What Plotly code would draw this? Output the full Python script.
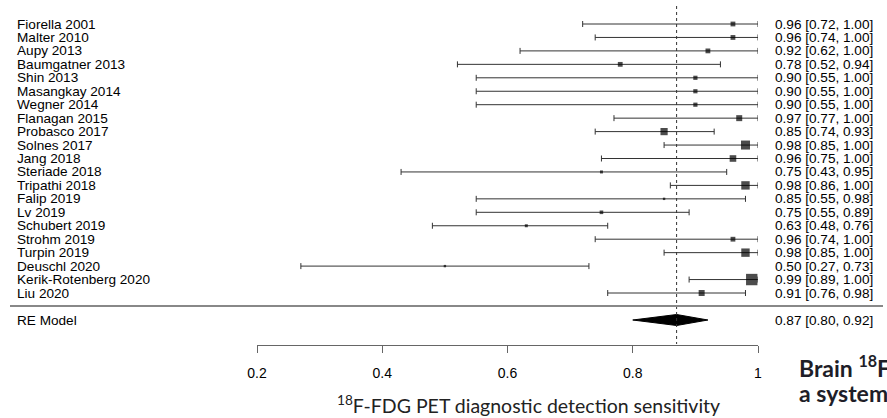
import plotly.graph_objects as go

# ---------------- data ----------------
studies = ["Fiorella 2001", "Malter 2010", "Aupy 2013", "Baumgatner 2013", "Shin 2013",
           "Masangkay 2014", "Wegner 2014", "Flanagan 2015", "Probasco 2017", "Solnes 2017",
           "Jang 2018", "Steriade 2018", "Tripathi 2018", "Falip 2019", "Lv 2019",
           "Schubert 2019", "Strohm 2019", "Turpin 2019", "Deuschl 2020",
           "Kerik-Rotenberg 2020", "Liu 2020"]
estimate = [0.96, 0.96, 0.92, 0.78, 0.90, 0.90, 0.90, 0.97, 0.85, 0.98, 0.96, 0.75, 0.98,
            0.85, 0.75, 0.63, 0.96, 0.98, 0.50, 0.99, 0.91]
lower = [0.72, 0.74, 0.62, 0.52, 0.55, 0.55, 0.55, 0.77, 0.74, 0.85, 0.75, 0.43, 0.86,
         0.55, 0.55, 0.48, 0.74, 0.85, 0.27, 0.89, 0.76]
upper = [1.00, 1.00, 1.00, 0.94, 1.00, 1.00, 1.00, 1.00, 0.93, 1.00, 1.00, 0.95, 1.00,
         0.98, 0.89, 0.76, 1.00, 1.00, 0.73, 1.00, 0.98]
# relative study weights
weights = [4, 4, 4, 4, 3.5, 3.5, 3.5, 5, 6, 7.5, 5.5, 2.5, 7, 2, 3, 2.5, 4, 7, 2, 9.5, 5]
model_label = "RE Model"
model_est, model_lo, model_hi = 0.87, 0.80, 0.92
tick_values = [0.2, 0.4, 0.6, 0.8, 1.0]
tick_labels = ["0.2", "0.4", "0.6", "0.8", "1"]
x_title = "<sup>18</sup>F-FDG PET diagnostic detection sensitivity"
side_text = ["Brain <sup>18</sup>F-FDG", "a systematic"]

# ---------------- layout constants ----------------
W, H = 887, 418
TOP = 24.0           # px of first row centre
ROW = (293.0 - TOP) / (len(studies) - 1)   # px per row
X_LEFT_PX, X_RIGHT_PX = 251.0, 760.0   # px of 0.2 and 1.0
BOX_SCALE = 1.2

def row_of(px):
    return (px - TOP) / ROW

def paper_y(px):
    return (H - px) / H

ys = list(range(len(studies)))
y_model = row_of(320)
txt_font = dict(family="Liberation Sans, Arial", size=13.6, color="#000000")

fig = go.Figure()

# study CIs and boxes
fig.add_trace(go.Scatter(
    x=estimate, y=ys, mode="markers", cliponaxis=False,
    marker=dict(symbol="square", size=[w * BOX_SCALE for w in weights], color="#000000",
                line=dict(width=0)),
    error_x=dict(type="data", symmetric=False,
                 array=[u - e for u, e in zip(upper, estimate)],
                 arrayminus=[e - l for e, l in zip(estimate, lower)],
                 color="#333333", thickness=1, width=3),
    hoverinfo="skip", showlegend=False))

# RE model diamond
dh = 5.5 / ROW
fig.add_trace(go.Scatter(
    x=[model_lo, model_est, model_hi, model_est, model_lo],
    y=[y_model, y_model - dh, y_model, y_model + dh, y_model],
    mode="lines", fill="toself", fillcolor="#000000", cliponaxis=False,
    line=dict(color="#000000", width=1), hoverinfo="skip", showlegend=False))

# dotted reference line
fig.add_shape(type="line", xref="x", yref="y", x0=model_est, x1=model_est,
              y0=row_of(6), y1=row_of(344), line=dict(color="#333333", width=1, dash="dot"))
# separator
fig.add_shape(type="line", xref="paper", yref="y", x0=0, x1=1,
              y0=row_of(306), y1=row_of(306), line=dict(color="#888888", width=2))

ann = []
for s, y, e, l, u in zip(studies, ys, estimate, lower, upper):
    ann.append(dict(x=5 / W, xref="paper", y=y, yref="y", text=s, showarrow=False,
                    xanchor="left", yanchor="middle", font=txt_font))
    ann.append(dict(x=879 / W, xref="paper", y=y, yref="y",
                    text=f"{e:.2f} [{l:.2f}, {u:.2f}]", showarrow=False,
                    xanchor="right", yanchor="middle", font=txt_font))
ann.append(dict(x=5 / W, xref="paper", y=y_model, yref="y", text=model_label,
                showarrow=False, xanchor="left", yanchor="middle", font=txt_font))
ann.append(dict(x=879 / W, xref="paper", y=y_model, yref="y",
                text=f"{model_est:.2f} [{model_lo:.2f}, {model_hi:.2f}]", showarrow=False,
                xanchor="right", yanchor="middle", font=txt_font))
ann.append(dict(x=527 / W, xref="paper", y=paper_y(404), yref="paper", text=x_title,
                showarrow=False, xanchor="center", yanchor="middle",
                font=dict(family="Lato", size=19.5, color="#222222")))
for t, py in zip(side_text, [366, 393]):
    ann.append(dict(x=800 / W, xref="paper", y=paper_y(py), yref="paper", text=t,
                    showarrow=False, xanchor="left", yanchor="middle",
                    font=dict(family="Lato", size=23, color="#1e1e28", weight=700)))

fig.update_layout(
    width=W, height=H, margin=dict(l=0, r=0, t=0, b=0, pad=0),
    paper_bgcolor="white", plot_bgcolor="white",
    xaxis=dict(range=[0.2, 1.0], domain=[X_LEFT_PX / W, X_RIGHT_PX / W],
               anchor="free", position=paper_y(345), fixedrange=True,
               tickvals=tick_values, ticktext=tick_labels, showline=True,
               linecolor="#666666", linewidth=1, ticks="outside", ticklen=7,
               tickcolor="#666666", tickwidth=1, showgrid=False, zeroline=False,
               ticklabelstandoff=8,
               tickfont=dict(family="Liberation Sans, Arial", size=14, color="#000000")),
    yaxis=dict(range=[row_of(H), row_of(0)], domain=[0, 1], visible=False, fixedrange=True),
    annotations=ann,
)

fig.write_html("out.html")
